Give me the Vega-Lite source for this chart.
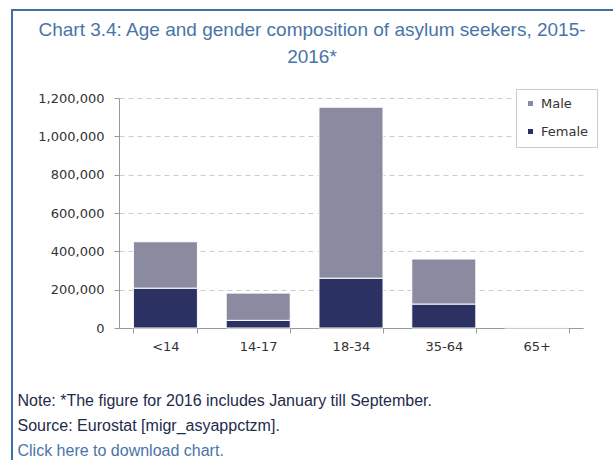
{
  "$schema": "https://vega.github.io/schema/vega-lite/v6.json",
  "width": 606,
  "height": 455,
  "autosize": {"type": "none"},
  "padding": {"left": 12, "top": 10, "right": -5, "bottom": -5},
  "background": "white",
  "config": {"view": {"stroke": "#3f6fa6", "strokeWidth": 2}},
  "title": {
    "text": ["Chart 3.4: Age and gender composition of asylum seekers, 2015-", "2016*"],
    "color": "#4a74a8",
    "font": "Liberation Sans",
    "fontSize": 19,
    "fontWeight": "normal",
    "lineHeight": 27,
    "anchor": "middle",
    "frame": "group",
    "offset": -57,
    "dx": -3
  },
  "data": {
    "values": [
      {"age": "<14", "sex": "Female", "count": 208000},
      {"age": "<14", "sex": "Male", "count": 242000},
      {"age": "14-17", "sex": "Female", "count": 40000},
      {"age": "14-17", "sex": "Male", "count": 142000},
      {"age": "18-34", "sex": "Female", "count": 260000},
      {"age": "18-34", "sex": "Male", "count": 892000},
      {"age": "35-64", "sex": "Female", "count": 125000},
      {"age": "35-64", "sex": "Male", "count": 235000},
      {"age": "65+", "sex": "Female", "count": 3000},
      {"age": "65+", "sex": "Male", "count": 3500}
    ]
  },
  "mark": {"type": "bar", "stroke": "white", "strokeWidth": 1},
  "encoding": {
    "x": {
      "field": "age",
      "type": "nominal",
      "sort": ["<14", "14-17", "18-34", "35-64", "65+"],
      "scale": {"range": [107, 571], "paddingInner": 0.31, "paddingOuter": 0.155},
      "axis": {
        "offset": -137,
        "labelAngle": 0,
        "labelFont": "DejaVu Sans",
        "labelFontSize": 13,
        "labelColor": "#333333",
        "labelPadding": 7,
        "tickBand": "extent",
        "tickSize": 5,
        "tickColor": "#999999",
        "domainColor": "#999999",
        "grid": false,
        "title": ["Note: *The figure for 2016 includes January till September.", "Source: Eurostat [migr_asyappctzm]."],
        "titleX": 5,
        "titleY": 77,
        "titleAlign": "left",
        "titleBaseline": "alphabetic",
        "titleFont": "Liberation Sans",
        "titleFontSize": 16,
        "titleFontWeight": "normal",
        "titleColor": "#1e2b4a",
        "titleLineHeight": 25
      }
    },
    "y": {
      "field": "count",
      "type": "quantitative",
      "stack": "zero",
      "scale": {"domain": [0, 1200000], "range": [318, 88], "nice": false},
      "axis": {
        "values": [0, 200000, 400000, 600000, 800000, 1000000, 1200000],
        "format": ",.0f",
        "offset": -107,
        "grid": true,
        "gridDash": [5, 4],
        "gridColor": "#cccccc",
        "tickSize": 5,
        "tickColor": "#999999",
        "domainColor": "#999999",
        "labelPadding": 10,
        "labelFont": "DejaVu Sans",
        "labelFontSize": 13,
        "labelColor": "#333333",
        "title": "Click here to download chart.",
        "titleAngle": 0,
        "titleX": -102,
        "titleY": 445,
        "titleAlign": "left",
        "titleBaseline": "alphabetic",
        "titleFont": "Liberation Sans",
        "titleFontSize": 16,
        "titleFontWeight": "normal",
        "titleColor": "#4a74a8"
      }
    },
    "color": {
      "field": "sex",
      "type": "nominal",
      "scale": {"domain": ["Male", "Female"], "range": ["#8a8ba1", "#2c3163"]},
      "legend": {
        "orient": "none",
        "legendX": 504,
        "legendY": 79,
        "title": null,
        "strokeColor": "#cccccc",
        "fillColor": "white",
        "padding": 8,
        "symbolType": "square",
        "symbolSize": 25,
        "symbolOffset": 0,
        "symbolStrokeWidth": 0,
        "labelOffset": 4,
        "rowPadding": 14,
        "labelFont": "DejaVu Sans",
        "labelFontSize": 13,
        "labelColor": "#333333"
      }
    },
    "order": {"field": "sex", "sort": "ascending"}
  }
}
